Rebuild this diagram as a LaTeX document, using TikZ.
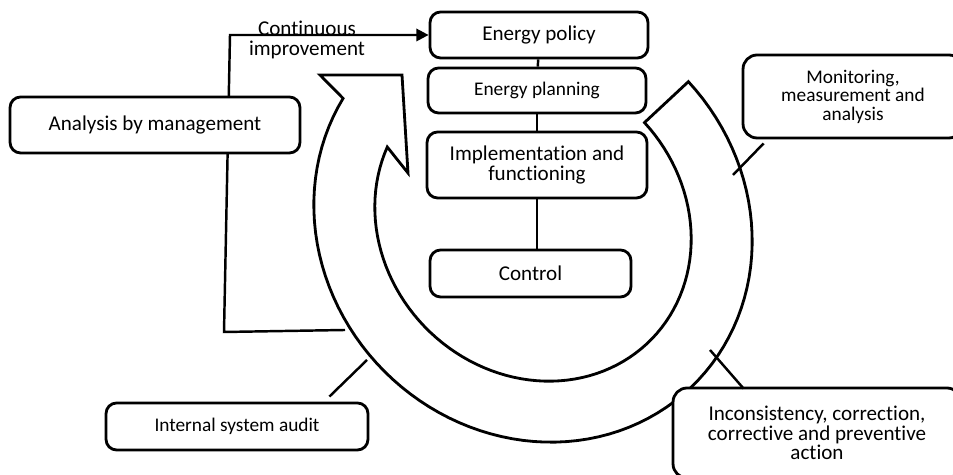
\documentclass[tikz,border=0pt]{standalone}
\usepackage{fontspec}
\setmainfont{Carlito}[Ligatures=NoCommon]
\usetikzlibrary{positioning,calc,arrows.meta,backgrounds}

\begin{document}
\begin{tikzpicture}[x=0.02cm,y=0.02cm,
	stage/.style={draw, line width=1.6pt, rounded corners=6pt, fill=white, align=center, inner sep=2pt, font=\fontsize{12}{11}\selectfont},
	smalltext/.style={font=\fontsize{11}{10.5}\selectfont},
	link/.style={line width=1.4pt},
	ring/.style={line width=1.6pt, line join=miter}]
	\useasboundingbox (0,0) rectangle (953,475);
	% stages
	\node[stage, minimum width=4.36cm, minimum height=0.92cm] (policy) at (539,440) {Energy policy};
	\node[stage, smalltext, minimum width=4.36cm, minimum height=0.9cm] (planning) at (537,384.5) {Energy planning};
	\node[stage, minimum width=4.4cm, minimum height=1.32cm] (impl) at (537,310) {Implementation and\\functioning};
	\node[stage, minimum width=4.02cm, minimum height=0.94cm] (control) at (530.5,201.5) {Control};
	\node[stage, minimum width=5.8cm, minimum height=1.12cm] (analysis) at (155,350) {Analysis by management};
	\node[stage, smalltext, rounded corners=8pt, minimum width=4.4cm, minimum height=1.66cm] (monitor) at (853,378.5) {Monitoring,\\measurement and\\analysis};
	\node[stage, rounded corners=8pt, minimum width=5.76cm, minimum height=1.8cm] (inconsist) at (817,42) {Inconsistency, correction,\\corrective and preventive\\action};
	\node[stage, smalltext, minimum width=5.24cm, minimum height=0.94cm] (audit) at (237,48.5) {Internal system audit};
	\node[font=\fontsize{12}{11}\selectfont, align=center] (improve) at (307,435) {Continuous\\improvement};

	\coordinate (loop-end) at (345,145);
	\coordinate (loop-bottom) at (224,143);
	\coordinate (loop-top) at (230,440);
	\coordinate (monitor-end) at (733,300);
	\coordinate (inconsist-end) at (710,125);
	\coordinate (audit-end) at (367,115);

	\begin{scope}[on background layer]
		% cycle arrow
		\draw[ring] plot[domain=92.5:347.3, samples=90, variable=\s] ({533-0.7071*(228*cos(\s)-210*sin(\s))},{252+0.7071*(228*cos(\s)+210*sin(\s))})
			-- (320,400) -- (402,400) -- (408,302)
			-- plot[domain=-340.8:-92.7, samples=90, variable=\t] ({533-0.7071*(166*cos(\t)+150*sin(\t))},{252+0.7071*(166*cos(\t)-150*sin(\t))})
			-- cycle;
		\draw[link, -{Triangle[length=7pt,width=7pt]}] (loop-end) -- (loop-bottom) -- (loop-top) -- (policy.west);
	\end{scope}

	\draw[link] (policy) -- (planning);
	\draw[link] (planning) -- (impl);
	\draw[link] (impl.south) -- (impl.south |- control.north);
	\draw[link] ($(monitor.south west)+(22,-4)$) -- (monitor-end);
	\draw[link] ($(inconsist.north west)+(72,-2)$) -- (inconsist-end);
	\draw[link] ($(audit.north east)+(-40,5)$) -- (audit-end);
\end{tikzpicture}
\end{document}
